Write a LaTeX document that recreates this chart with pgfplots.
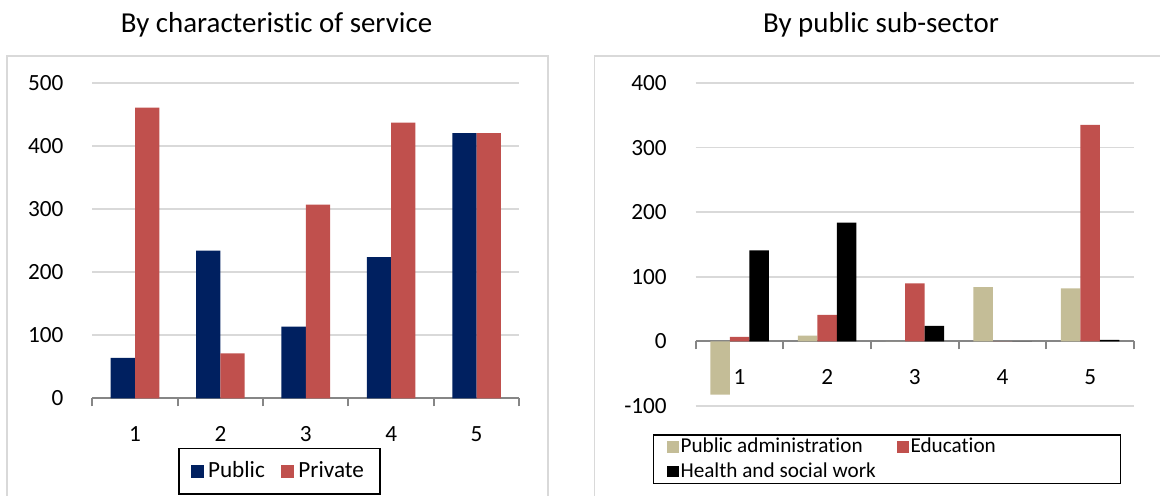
\documentclass[border=0pt]{standalone}
\usepackage{pgfplots}
\pgfplotsset{compat=1.18}
\usepackage{fontspec}
\setmainfont{Carlito}[Ligatures=NoCommon]
\definecolor{navy}{HTML}{002060}
\definecolor{brick}{HTML}{C0504D}
\definecolor{tanc}{HTML}{C4BD97}
\definecolor{gridc}{HTML}{D9D9D9}
\definecolor{axc}{HTML}{868686}
\definecolor{framec}{HTML}{D9D9D9}
\newcommand{\tickfont}{\fontsize{11.6}{13}\selectfont}

\pgfplotsset{
  common/.style={
    scale only axis,
    anchor=south west,
    xmin=0.5, xmax=5.5,
    xtick={1,2,3,4,5},
    minor xtick={0.5,1.5,...,5.5},
    major tick length=0pt,
    minor tick length=4pt,
    tick align=outside,
    xtick style={axc, line width=1pt},
    minor x tick style={axc, line width=1pt},
    x axis line style={axc, line width=1pt},
    y axis line style={draw=none},
    ytick style={draw=none},
    ymajorgrids,
    major grid style={gridc, line width=0.8pt},
    hide obscured x ticks=false,
    hide obscured y ticks=false,
    /pgf/number format/assume math mode=true,
    xticklabel={\tickfont\pgfmathprintnumber{\tick}},
    yticklabel={\tickfont\pgfmathprintnumber{\tick}},
    xticklabel style={anchor=center, yshift=-17.8pt},
    yticklabel style={anchor=east, inner sep=0pt, xshift=-14.3pt},
    ybar=0pt,
    legend cell align=left,
  }
}

\begin{document}
\begin{tikzpicture}
\useasboundingbox (0,0) rectangle (580pt,247.5pt);
\draw[framec, line width=0.85pt] (3.5pt,-10pt) -- (3.5pt,219.65pt) -- (273.85pt,219.65pt) -- (273.85pt,-10pt);
\draw[framec, line width=0.85pt] (297.25pt,-10pt) -- (297.25pt,219.65pt) -- (600pt,219.65pt);
\node[anchor=base, inner sep=0pt, font=\fontsize{14.45}{17}\selectfont] at (138.25pt,231.15pt) {By characteristic of service};
\node[anchor=base, inner sep=0pt, font=\fontsize{14.45}{17}\selectfont] at (440.5pt,231.15pt) {By public sub-sector};

\begin{axis}[common,
  at={(46.15pt,48.35pt)}, width=213.5pt, height=157.8pt,
  ymin=0, ymax=500, ytick={0,100,...,500},
  axis x line*=bottom, axis y line*=left,
  bar width=12.15pt,
  legend columns=2,
  legend image code/.code={\fill[#1] (0pt,-3.25pt) rectangle (6.5pt,3.25pt);},
  legend style={at={(0.4384,-0.1565)}, anchor=north, draw=black, line width=0.65pt,
    font=\fontsize{11.6}{13.5}\selectfont, inner xsep=6pt, inner ysep=4.6pt,
    nodes={inner sep=2pt, text depth=0.15em},
    /tikz/every even column/.append style={column sep=6.3pt}},
]
\addplot[fill=navy, draw=none] coordinates {(1,64) (2,234) (3,113.5) (4,223.5) (5,420)};
\addlegendentry{Public}
\addplot[fill=brick, draw=none] coordinates {(1,460.5) (2,71) (3,306.8) (4,436.8) (5,420)};
\addlegendentry{Private}
\end{axis}

\begin{axis}[common,
  at={(347.85pt,44.5pt)}, width=219.15pt, height=161.5pt,
  ymin=-100, ymax=400, ytick={-100,0,...,400},
  axis x line*=middle, axis y line*=left,
  bar width=9.75pt,
  legend columns=2,
  legend image code/.code={\fill[#1] (0pt,-2.9pt) rectangle (5.85pt,2.9pt);},
  legend style={at={(0.4369,-0.0876)}, anchor=north, draw=black, line width=0.65pt,
    font=\fontsize{10.6}{12.5}\selectfont, inner xsep=6.5pt, inner ysep=0.5pt,
    nodes={inner sep=1pt, text depth=0.15em},
    /tikz/row sep=1.5pt,
    /tikz/every even column/.append style={column sep=9.5pt}},
]
\addplot[fill=tanc, draw=none] coordinates {(1,-82.4) (2,8.8) (3,0) (4,84) (5,82)};
\addlegendentry{Public administration}
\addplot[fill=brick, draw=none] coordinates {(1,7) (2,41) (3,90) (4,0) (5,335)};
\addlegendentry{\makebox[97.5pt][l]{Education}}
\addplot[fill=black, draw=none] coordinates {(1,141) (2,184) (3,24) (4,0) (5,2.5)};
\addlegendentry{Health and social work}
\end{axis}
\end{tikzpicture}
\end{document}
